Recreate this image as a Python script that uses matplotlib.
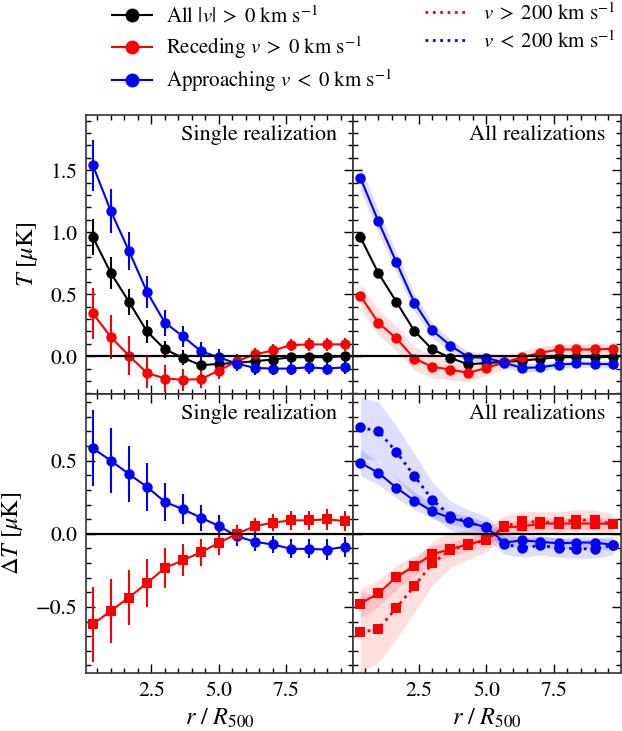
import numpy as np
import matplotlib
matplotlib.use("Agg")
import matplotlib.pyplot as plt
from matplotlib.lines import Line2D
from matplotlib.ticker import MultipleLocator

plt.rcParams['font.family'] = 'STIXGeneral'
plt.rcParams['mathtext.fontset'] = 'stix'
plt.rcParams['font.size'] = 15.5

# radial bins, r / R500
r = [0.333, 1.0, 1.667, 2.333, 3.0, 3.667, 4.333, 5.0, 5.667, 6.333, 7.0, 7.667, 8.333, 9.0, 9.667]

# top left: single realization, T [muK] with errors
T_all_single = [0.96, 0.67, 0.44, 0.20, 0.055, -0.013, -0.073, -0.062, -0.054, -0.04, -0.027, -0.008, -0.008, -0.008, 0.0]
T_all_single_err = [0.146, 0.126, 0.104, 0.09, 0.07, 0.06, 0.05, 0.045, 0.04, 0.04, 0.04, 0.035, 0.035, 0.035, 0.035]
T_rec_single = [0.346, 0.154, 0.005, -0.135, -0.18, -0.19, -0.185, -0.116, -0.04, 0.014, 0.046, 0.089, 0.095, 0.095, 0.095]
T_rec_single_err = [0.207, 0.18, 0.155, 0.125, 0.105, 0.09, 0.075, 0.065, 0.06, 0.055, 0.05, 0.05, 0.05, 0.05, 0.05]
T_app_single = [1.54, 1.17, 0.85, 0.52, 0.27, 0.16, 0.04, -0.01, -0.06, -0.095, -0.10, -0.10, -0.09, -0.10, -0.09]
T_app_single_err = [0.205, 0.178, 0.155, 0.128, 0.105, 0.085, 0.075, 0.065, 0.06, 0.055, 0.055, 0.05, 0.05, 0.05, 0.05]

# top right: all realizations, mean with scatter band
T_all_mean = [0.96, 0.67, 0.438, 0.203, 0.054, -0.013, -0.067, -0.054, -0.046, -0.035, -0.022, -0.008, -0.008, -0.008, -0.005]
T_rec_mean = [0.487, 0.27, 0.143, -0.019, -0.086, -0.108, -0.135, -0.095, -0.049, -0.008, 0.027, 0.054, 0.054, 0.054, 0.06]
T_rec_band = [0.10, 0.10, 0.10, 0.095, 0.09, 0.08, 0.07, 0.06, 0.055, 0.05, 0.05, 0.047, 0.047, 0.047, 0.047]
T_app_mean = [1.44, 1.087, 0.757, 0.432, 0.208, 0.086, -0.008, -0.013, -0.054, -0.095, -0.09, -0.068, -0.059, -0.062, -0.065]
T_app_band = [0.10, 0.09, 0.08, 0.07, 0.06, 0.05, 0.045, 0.04, 0.04, 0.035, 0.035, 0.03, 0.03, 0.03, 0.03]

# bottom left: single realization, Delta T
dT_rec_single = [-0.619, -0.527, -0.436, -0.337, -0.234, -0.181, -0.126, -0.062, 0.0, 0.053, 0.076, 0.092, 0.092, 0.099, 0.087]
dT_rec_single_err = [0.258, 0.218, 0.188, 0.162, 0.138, 0.109, 0.092, 0.086, 0.06, 0.057, 0.06, 0.065, 0.065, 0.07, 0.07]
dT_app_single = [0.585, 0.50, 0.409, 0.321, 0.218, 0.168, 0.110, 0.053, -0.016, -0.055, -0.073, -0.103, -0.103, -0.108, -0.089]
dT_app_single_err = [0.26, 0.224, 0.19, 0.165, 0.13, 0.103, 0.09, 0.078, 0.065, 0.06, 0.06, 0.065, 0.065, 0.07, 0.07]

# bottom right: all realizations, |v| > 0 (solid) and |v| > 200 km/s (dotted)
dT_rec_mean = [-0.477, -0.408, -0.296, -0.22, -0.14, -0.105, -0.071, -0.041, 0.045, 0.05, 0.07, 0.07, 0.07, 0.07, 0.068]
dT_rec_band = [0.10, 0.09, 0.08, 0.07, 0.06, 0.05, 0.045, 0.04, 0.04, 0.04, 0.04, 0.04, 0.04, 0.04, 0.04]
dT_rec_200 = [-0.674, -0.651, -0.507, -0.358, -0.202, -0.11, -0.075, -0.04, 0.05, 0.085, 0.08, 0.08, 0.095, 0.092, 0.068]
dT_rec_200_band = [0.28, 0.23, 0.21, 0.18, 0.15, 0.12, 0.10, 0.085, 0.075, 0.07, 0.07, 0.07, 0.07, 0.07, 0.07]
dT_app_mean = [0.487, 0.416, 0.315, 0.227, 0.154, 0.108, 0.078, 0.044, -0.06, -0.045, -0.055, -0.065, -0.06, -0.06, -0.075]
dT_app_band = [0.09, 0.08, 0.07, 0.06, 0.05, 0.045, 0.04, 0.04, 0.04, 0.04, 0.04, 0.04, 0.04, 0.04, 0.04]
dT_app_200 = [0.727, 0.702, 0.56, 0.395, 0.232, 0.124, 0.078, 0.044, -0.07, -0.096, -0.08, -0.096, -0.103, -0.103, -0.08]
dT_app_200_band = [0.21, 0.2, 0.18, 0.15, 0.12, 0.10, 0.085, 0.075, 0.07, 0.065, 0.065, 0.065, 0.065, 0.065, 0.065]

r = np.array(r)
lw = 1.5
ms = 7.5


def band(ax, y, h, color, ls='-', marker='o'):
    y = np.array(y)
    h = np.array(h)
    ax.fill_between(r, y - h, y + h, color=color, alpha=0.13, lw=0)
    ax.plot(r, y, color=color, ls=ls, lw=lw if ls == '-' else 2, marker=marker, ms=ms, mew=0)


def ebar(ax, y, e, color, marker='o'):
    ax.errorbar(r, y, yerr=e, color=color, lw=lw, elinewidth=lw, marker=marker, ms=ms, mew=0, capsize=0)


fig = plt.figure(figsize=(6.22, 7.31), dpi=100)
gs = fig.add_gridspec(2, 2, left=86/622, right=621/622, top=1-115/731, bottom=1-673/731,
                      wspace=0, hspace=0)
axes = [[fig.add_subplot(gs[i, j]) for j in range(2)] for i in range(2)]

# top row
ax = axes[0][0]
ebar(ax, T_all_single, T_all_single_err, 'k')
ebar(ax, T_rec_single, T_rec_single_err, 'r')
ebar(ax, T_app_single, T_app_single_err, 'b')
ax.text(0.94, 0.965, 'Single realization', transform=ax.transAxes, ha='right', va='top', fontsize=16)

ax = axes[0][1]
band(ax, T_all_mean, np.zeros(len(r)), 'k')
band(ax, T_rec_mean, T_rec_band, 'r')
band(ax, T_app_mean, T_app_band, 'b')
ax.text(0.94, 0.965, 'All realizations', transform=ax.transAxes, ha='right', va='top', fontsize=16)

# bottom row
ax = axes[1][0]
ebar(ax, dT_app_single, dT_app_single_err, 'b')
ebar(ax, dT_rec_single, dT_rec_single_err, 'r', marker='s')
ax.text(0.94, 0.965, 'Single realization', transform=ax.transAxes, ha='right', va='top', fontsize=16)

ax = axes[1][1]
band(ax, dT_app_200, dT_app_200_band, 'b', ls=':')
band(ax, dT_app_mean, dT_app_band, 'b')
band(ax, dT_rec_200, dT_rec_200_band, 'r', ls=':', marker='s')
band(ax, dT_rec_mean, dT_rec_band, 'r', marker='s')
ax.text(0.94, 0.965, 'All realizations', transform=ax.transAxes, ha='right', va='top', fontsize=16)

for i in range(2):
    for j in range(2):
        ax = axes[i][j]
        ax.axhline(0, color='k', lw=1.6, zorder=5)
        ax.set_xlim(0.08, 9.98)
        if i == 0:
            ax.set_ylim(-0.305, 1.945)
        else:
            ax.set_ylim(-0.952, 0.956)
        ax.yaxis.set_major_locator(MultipleLocator(0.5))
        ax.yaxis.set_minor_locator(MultipleLocator(0.1))
        ax.xaxis.set_major_locator(MultipleLocator(2.5))
        ax.xaxis.set_minor_locator(MultipleLocator(0.5))
        ax.tick_params(which='both', direction='in', top=True, right=True, labelsize=15.5, pad=6)
        ax.tick_params(which='major', length=6.5, width=1)
        ax.tick_params(which='minor', length=3.3, width=1)
        for s in ax.spines.values():
            s.set_linewidth(1.2)
            s.set_color('#333333')
        if j == 1:
            ax.set_yticklabels([])
        if i == 0:
            ax.set_xticklabels([])
        else:
            ax.set_xlabel(r'$r\ /\ R_{500}$', fontsize=17.5, labelpad=4)

axes[0][0].set_ylabel(r'$T$ [$\mu$K]', fontsize=17.5, labelpad=8)
axes[1][0].set_ylabel(r'$\Delta T$ [$\mu$K]', fontsize=17.5, labelpad=8)

h1 = [Line2D([], [], color='k', lw=lw, marker='o', ms=10, mew=0),
      Line2D([], [], color='r', lw=lw, marker='o', ms=10, mew=0),
      Line2D([], [], color='b', lw=lw, marker='o', ms=10, mew=0)]
l1 = [r'All $|v|\;>\;0$ km s$^{-1}$', r'Receding $v\;>\;0$ km s$^{-1}$',
      r'Approaching $v\;<\;0$ km s$^{-1}$']
fig.legend(h1, l1, loc='upper left', bbox_to_anchor=(112/622, 1-6/731), frameon=False,
           borderpad=0, borderaxespad=0, handlelength=1.9, handletextpad=0.7,
           labelspacing=0.32, fontsize=15)

h2 = [Line2D([], [], color='r', lw=2, ls=':'), Line2D([], [], color='b', lw=2, ls=':')]
l2 = [r'$v\;>\;200$ km s$^{-1}$', r'$v\;<\;200$ km s$^{-1}$']
fig.legend(h2, l2, loc='upper left', bbox_to_anchor=(425/622, 1-3/731), frameon=False,
           borderpad=0, borderaxespad=0, handlelength=2.1, handletextpad=0.7,
           labelspacing=0.3, fontsize=15)

fig.savefig('out.png', dpi=100)
